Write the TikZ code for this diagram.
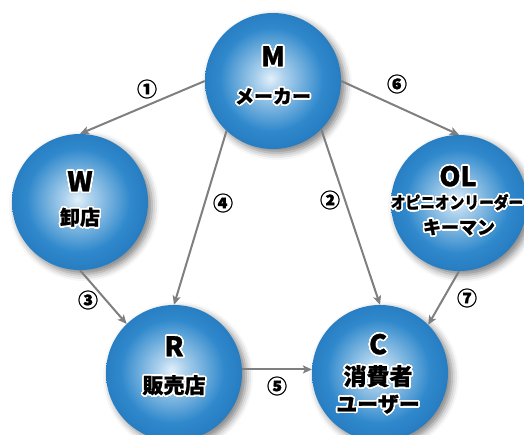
\documentclass[tikz,border=0pt]{standalone}
\usepackage{fontspec}
\setmainfont{Noto Sans CJK JP}[BoldFeatures={FakeBold=1}]
\usepackage{contour}
\contourlength{1.6pt}
\contournumber{32}
\usetikzlibrary{arrows.meta,shadows.blur}
\definecolor{hl}{HTML}{E2F0FA}
\definecolor{mid}{HTML}{3089CC}
\definecolor{edge}{HTML}{1A6CB2}
\definecolor{dark}{HTML}{115A9B}
\definecolor{arrowgray}{HTML}{7F7F7F}
\pgfdeclareradialshading{sphere}{\pgfpoint{-1bp}{1bp}}{color(0bp)=(hl); color(5bp)=(hl!70!mid); color(19bp)=(mid); color(34bp)=(edge); color(50bp)=(dark)}
\newcommand{\gl}[1]{\contour{white}{#1}}
\tikzset{
  ball/.style={circle, minimum size=136pt, inner sep=0pt, shading=sphere,
    blur shadow={shadow xshift=4pt, shadow yshift=-4pt, shadow blur radius=7pt, shadow opacity=50}},
  big/.style={font=\fontsize{27}{27}\selectfont\bfseries, inner sep=0pt},
  jtxt/.style={font=\fontsize{#1}{#1}\selectfont\bfseries, inner sep=0pt},
  conn/.style={draw=arrowgray, line width=2pt, -{Stealth[length=9pt,width=8pt,inset=2pt]}},
  num/.style={font=\fontsize{20}{20}\selectfont\bfseries, inner sep=0pt}
}
\begin{document}
\begin{tikzpicture}[x=1pt,y=-1pt]
\useasboundingbox (0,0) rectangle (524,434);
\node[ball] (M) at (273,81) {};
\node[ball] (W) at (80,202) {};
\node[ball] (OL) at (459,203) {};
\node[ball] (R) at (174,373) {};
\node[ball] (C) at (380,373) {};

\node[big] (Mt) at (273,57) {\gl{M}};
\node[jtxt=19] (Ms) at (273,97) {\gl{メーカー}};
\node[big] (Wt) at (80,182) {\gl{W}};
\node[jtxt=20] (Ws) at (80,218) {\gl{卸店}};
\node[big] (OLt) at (458,177) {\gl{OL}};
\node[jtxt=16] (OLs) at (457,203) {\scalebox{0.92}[1.05]{\gl{オピニオンリーダー}}};
\node[jtxt=18] (OLk) at (459,228) {\gl{キーマン}};
\node[big] (Rt) at (174,347) {\gl{R}};
\node[jtxt=21] (Rs) at (174,386) {\gl{販売店}};
\node[big] (Ct) at (378,345) {\gl{C}};
\node[jtxt=23] (Cs) at (378,377) {\gl{消費者}};
\node[jtxt=21] (Cu) at (378,405) {\gl{ユーザー}};

\draw[conn] (M.180) -- (W.90);
\draw[conn] (M.0) -- (OL.90);
\draw[conn] (M.227) -- (R.90);
\draw[conn] (M.315) -- (C.90);
\draw[conn] (W.270) -- (R.134);
\draw[conn] (OL.270) -- (C.45);
\draw[conn] (R.3) -- (C.177);

\node[num] (n1) at (147,89) {①};
\node[num] (n6) at (397,84) {⑥};
\node[num] (n4) at (223,203) {④};
\node[num] (n2) at (330,200) {②};
\node[num] (n3) at (88,300) {③};
\node[num] (n7) at (467,298) {⑦};
\node[num] (n5) at (277,386) {⑤};
\end{tikzpicture}
\end{document}
